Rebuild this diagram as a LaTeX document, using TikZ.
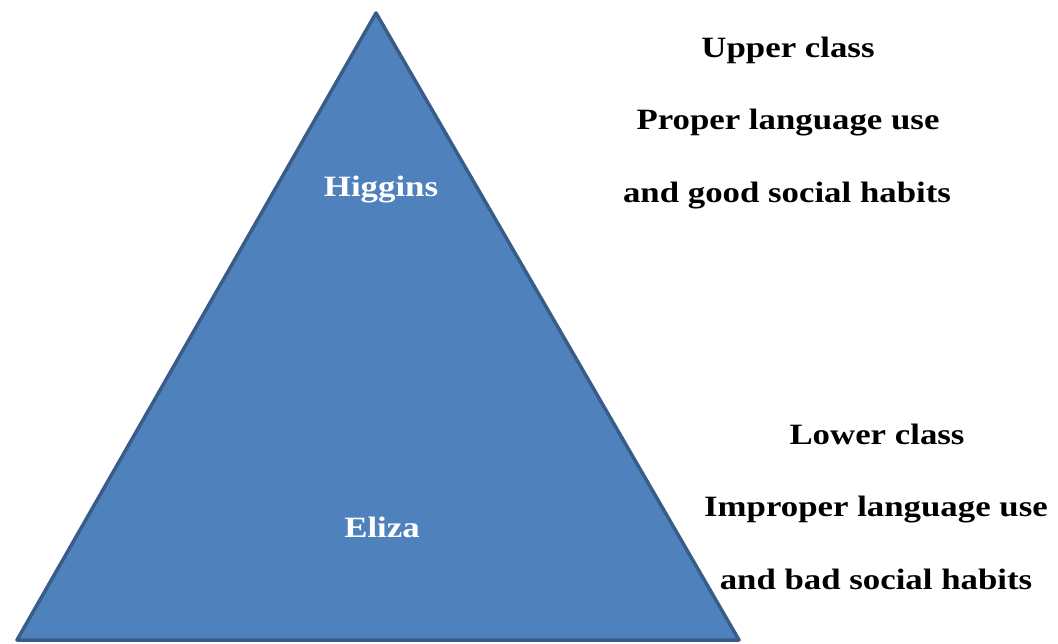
\documentclass[tikz,border=0pt]{standalone}
\usepackage{fontspec}
\usepackage{graphicx}
\setmainfont{Liberation Serif}
\definecolor{triFill}{HTML}{4F81BD}
\definecolor{triLine}{HTML}{385D8A}
\newcommand{\wideTxt}[1]{\scalebox{1.18}[1]{#1}}
\begin{document}
\begin{tikzpicture}[x=1pt,y=-1pt,
  lbl/.style={anchor=base,inner sep=0pt,font=\fontsize{29.5}{34}\selectfont\bfseries},
  inlbl/.style={lbl,text=white}]
\useasboundingbox (0,0) rectangle (1058,644);
\coordinate (apex) at (376,13);
\coordinate (bl) at (17,640);
\coordinate (br) at (739,640);
\filldraw[fill=triFill,draw=triLine,line width=3.5pt,line join=round] (apex) -- (br) -- (bl) -- cycle;
\node[inlbl] (higgins) at (381,197) {\wideTxt{Higgins}};
\node[inlbl] (eliza) at (382,537) {\wideTxt{Eliza}};
\node[lbl] (u1) at (788,58) {\wideTxt{Upper class}};
\node[lbl] (u2) at (788,130) {\wideTxt{Proper language use}};
\node[lbl] (u3) at (787,203) {\wideTxt{and good social habits}};
\node[lbl] (l1) at (877,444) {\wideTxt{Lower class}};
\node[lbl] (l2) at (876,516) {\wideTxt{Improper language use}};
\node[lbl] (l3) at (876,589) {\wideTxt{and bad social habits}};
\end{tikzpicture}
\end{document}
